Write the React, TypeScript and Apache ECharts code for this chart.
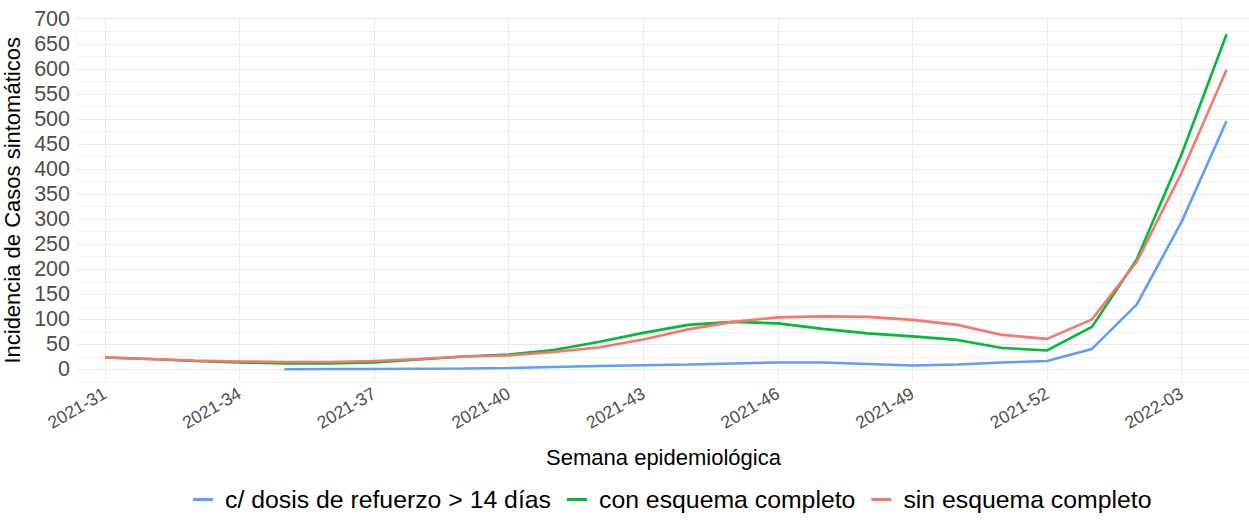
import React, { useEffect, useRef } from "react";
import * as echarts from "echarts";

const weeks = [
  "2021-31", "2021-32", "2021-33", "2021-34", "2021-35", "2021-36", "2021-37", "2021-38",
  "2021-39", "2021-40", "2021-41", "2021-42", "2021-43", "2021-44", "2021-45", "2021-46",
  "2021-47", "2021-48", "2021-49", "2021-50", "2021-51", "2021-52", "2022-01", "2022-02",
  "2022-03", "2022-04",
];

const refuerzo: (number | null)[] = [
  null, null, null, null, 0.5, 1, 1, 1.5, 2, 3, 5, 7, 8.5, 10, 12, 14,
  14, 11, 8, 10, 14, 17, 41, 130, 295, 496,
];

const completo = [
  24, 21, 17, 14, 12, 12, 14, 20, 26, 30, 39, 55, 73, 89, 95, 92,
  81, 72, 66, 59, 43, 38, 85, 220, 430, 669,
];

const sinEsquema = [
  24, 21, 18, 16, 15, 15, 17, 21, 26, 28, 35, 44, 60, 80, 95, 104,
  106, 105, 99, 89, 69, 61, 100, 215, 393, 598,
];

const labelWeeks = ["2021-31", "2021-34", "2021-37", "2021-40", "2021-43", "2021-46", "2021-49", "2021-52", "2022-03"];

const seriesNames = ["c/ dosis de refuerzo > 14 días", "con esquema completo", "sin esquema completo"];
const seriesColors = ["#619CFF", "#00BA38", "#F8766D"];

const FONT = "'Liberation Sans', Arial, sans-serif";

function toPoints(arr: (number | null)[]) {
  const out: [number, number][] = [];
  arr.forEach((v, i) => {
    if (v !== null) out.push([i, v]);
  });
  return out;
}

export default function App() {
  const ref = useRef<HTMLDivElement>(null);
  useEffect(() => {
    document.body.style.margin = "0";
    if (!ref.current) return;
    const chart = echarts.init(ref.current, null, { renderer: "svg" });
    const tickIdx = labelWeeks.map((w) => weeks.indexOf(w));
    const all = [refuerzo, completo, sinEsquema];
    chart.setOption({
      animation: false,
      backgroundColor: "#ffffff",
      textStyle: { fontFamily: FONT },
      grid: { left: 78, right: 0, top: 18.7, bottom: 139, containLabel: false, outerBoundsMode: "none" },
      legend: {
        bottom: 4,
        left: 188,
        itemWidth: 20,
        itemHeight: 3,
        itemGap: 16,
        icon: "rect",
        textStyle: { fontSize: 24.8, color: "#000", fontFamily: FONT, padding: [0, 0, 0, 7] },
        data: seriesNames,
      },
      xAxis: {
        type: "value",
        min: -0.6,
        max: 25.5,
        name: "Semana epidemiológica",
        nameLocation: "middle",
        nameGap: 64,
        nameTextStyle: { fontSize: 22, color: "#000", fontFamily: FONT },
        axisLine: { show: false },
        axisTick: { show: false, customValues: tickIdx },
        axisLabel: {
          customValues: tickIdx,
          rotate: 30,
          fontSize: 17.5,
          color: "#4d4d4d",
          margin: 10,
          fontFamily: FONT,
          formatter: (v: number) => weeks[Math.round(v)] ?? "",
        },
        splitLine: { show: true, lineStyle: { color: "#ebebeb", width: 1.1 } },
      },
      yAxis: {
        type: "value",
        min: -25,
        max: 700,
        interval: 25,
        name: "Incidencia de Casos sintomáticos",
        nameLocation: "middle",
        nameGap: 46,
        nameTextStyle: { fontSize: 22, color: "#000", fontFamily: FONT },
        axisLine: { show: false },
        axisTick: { show: false },
        axisLabel: {
          fontSize: 21.5,
          color: "#4d4d4d",
          margin: 8,
          fontFamily: FONT,
          showMinLabel: true,
          showMaxLabel: true,
          formatter: (v: number) => (v >= 0 && v % 50 === 0 ? String(v) : ""),
        },
        splitLine: { show: true, lineStyle: { color: ["#f3f3f3", "#e9e9e9"], width: 1.1 } },
      },
      series: seriesNames.map((name, k) => ({
        name,
        type: "line",
        data: toPoints(all[k]),
        showSymbol: false,
        symbol: "none",
        smooth: false,
        lineStyle: { color: seriesColors[k], width: 2.6 },
        itemStyle: { color: seriesColors[k] },
      })),
    });
    return () => chart.dispose();
  }, []);
  return <div ref={ref} style={{ width: 1249, height: 521 }} />;
}
